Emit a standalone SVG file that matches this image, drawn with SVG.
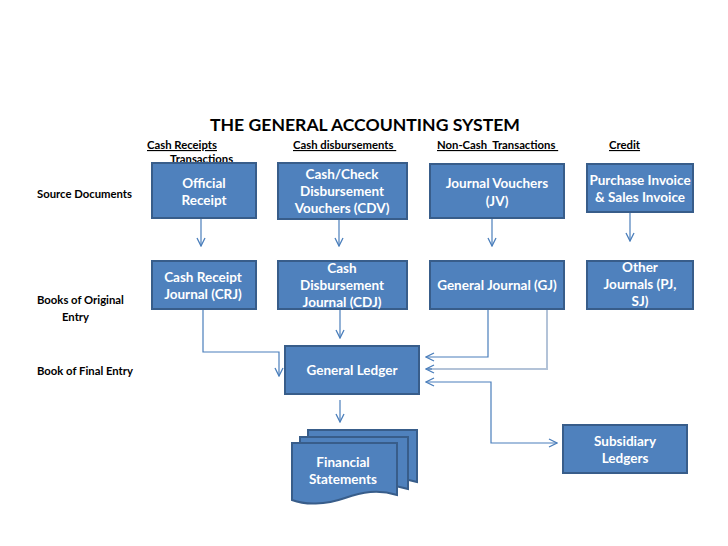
<svg xmlns="http://www.w3.org/2000/svg" width="728" height="546" viewBox="0 0 728 546">
<style>
.box{fill:#4F81BD;stroke:#385D8A;stroke-width:2}
.bt{font-family:Lato,"Open Sans","Liberation Sans",sans-serif;font-weight:bold;font-size:13.5px;fill:#fff;text-anchor:middle}
.lb{font-family:Lato,"Open Sans","Liberation Sans",sans-serif;font-weight:bold;font-size:11.3px;fill:#000}
.hd{font-family:Lato,"Open Sans","Liberation Sans",sans-serif;font-weight:bold;font-size:11.3px;fill:#000;text-decoration:underline;white-space:pre}
.ttl{font-family:Lato,"Open Sans","Liberation Sans",sans-serif;font-weight:bold;font-size:17.6px;fill:#000}
.cn{fill:none;stroke:#4A7EBB;stroke-width:1.2}
.cn2{fill:none;stroke:#B3C3D8;stroke-width:2}
</style>
<defs>
<marker id="ah" viewBox="0 0 10 10" refX="9" refY="5" markerWidth="10" markerHeight="10" markerUnits="userSpaceOnUse" orient="auto-start-reverse">
<path d="M1,1 L9,5 L1,9" fill="none" stroke="#4A7EBB" stroke-width="1.3"/>
</marker>
</defs>
<rect width="728" height="546" fill="#fff"/>
<text class="ttl" x="210" y="131">THE GENERAL ACCOUNTING SYSTEM</text>
<g id="headers">
<text class="hd" x="147" y="149">Cash Receipts</text>
<text class="hd" x="170" y="163">Transactions</text>
<text class="hd" x="293" y="149" xml:space="preserve">Cash disbursements </text>
<text class="hd" x="437" y="149" xml:space="preserve">Non-Cash  Transactions </text>
<text class="hd" x="609" y="149">Credit</text>
</g>
<g id="rowlabels">
<text class="lb" x="37" y="198">Source Documents</text>
<text class="lb" x="37" y="304">Books of Original</text>
<text class="lb" x="62" y="321">Entry</text>
<text class="lb" x="37" y="375">Book of Final Entry</text>
</g>
<g id="connectors">
<path class="cn" d="M201,218 V246" marker-end="url(#ah)"/>
<path class="cn" d="M339,219 V246" marker-end="url(#ah)"/>
<path class="cn" d="M492,218 V246" marker-end="url(#ah)"/>
<path class="cn" d="M630,212 V241" marker-end="url(#ah)"/>
<path class="cn" d="M203,309 V352 H279 V376" marker-end="url(#ah)"/>
<path class="cn" d="M340,309 V338" marker-end="url(#ah)"/>
<path class="cn" d="M488,309 V357 H426" marker-end="url(#ah)"/>
<path class="cn2" d="M547,309 V369 H428"/>
<path class="cn" d="M432,369 H426" marker-end="url(#ah)"/>
<path class="cn" d="M426,382 H491 V443 H557" marker-start="url(#ah)" marker-end="url(#ah)"/>
<path class="cn" d="M340,400 V422" marker-end="url(#ah)"/>
</g>
<g id="official-receipt">
<rect class="box" x="152" y="163" width="104" height="55"/>
<text class="bt" x="204" y="188">Official</text>
<text class="bt" x="204" y="205">Receipt</text>
</g>
<g id="cdv">
<rect class="box" x="278" y="163" width="129" height="56"/>
<text class="bt" x="342" y="179">Cash/Check</text>
<text class="bt" x="342" y="196">Disbursement</text>
<text class="bt" x="342" y="213">Vouchers (CDV)</text>
</g>
<g id="jv">
<rect class="box" x="430" y="164" width="134" height="54"/>
<text class="bt" x="497" y="188">Journal Vouchers</text>
<text class="bt" x="497" y="206">(JV)</text>
</g>
<g id="invoice">
<rect class="box" x="587" y="164" width="106" height="48"/>
<text class="bt" x="640" y="185">Purchase Invoice</text>
<text class="bt" x="640" y="202">&amp; Sales Invoice</text>
</g>
<g id="crj">
<rect class="box" x="152" y="261" width="104" height="48"/>
<text class="bt" x="203" y="282">Cash Receipt</text>
<text class="bt" x="203" y="299">Journal (CRJ)</text>
</g>
<g id="cdj">
<rect class="box" x="278" y="261" width="129" height="48"/>
<text class="bt" x="342" y="273">Cash</text>
<text class="bt" x="342" y="290">Disbursement</text>
<text class="bt" x="342" y="307">Journal (CDJ)</text>
</g>
<g id="gj">
<rect class="box" x="430" y="261" width="134" height="48"/>
<text class="bt" x="497" y="290">General Journal (GJ)</text>
</g>
<g id="other-journals">
<rect class="box" x="587" y="261" width="106" height="48"/>
<text class="bt" x="640" y="272">Other</text>
<text class="bt" x="640" y="289">Journals (PJ,</text>
<text class="bt" x="640" y="306">SJ)</text>
</g>
<g id="general-ledger">
<rect class="box" x="285" y="346" width="134" height="48"/>
<text class="bt" x="352" y="375">General Ledger</text>
</g>
<g id="subsidiary-ledgers">
<rect class="box" x="563" y="425" width="124" height="48"/>
<text class="bt" x="625" y="446">Subsidiary</text>
<text class="bt" x="625" y="463">Ledgers</text>
</g>
<g id="financial-statements">
<path class="box" d="M308,430 H417 V482 C398,476 382,479 365,485 C345,492 325,492 308,487 Z"/>
<path class="box" d="M300,437 H408 V489 C389,483 373,486 356,492 C336,499 316,499 300,494 Z"/>
<path class="box" d="M292,443 H397 V495 C378,489 362,492 345,498 C325,505 305,505 292,500 Z"/>
<text class="bt" x="343" y="467">Financial</text>
<text class="bt" x="343" y="484">Statements</text>
</g>
</svg>
